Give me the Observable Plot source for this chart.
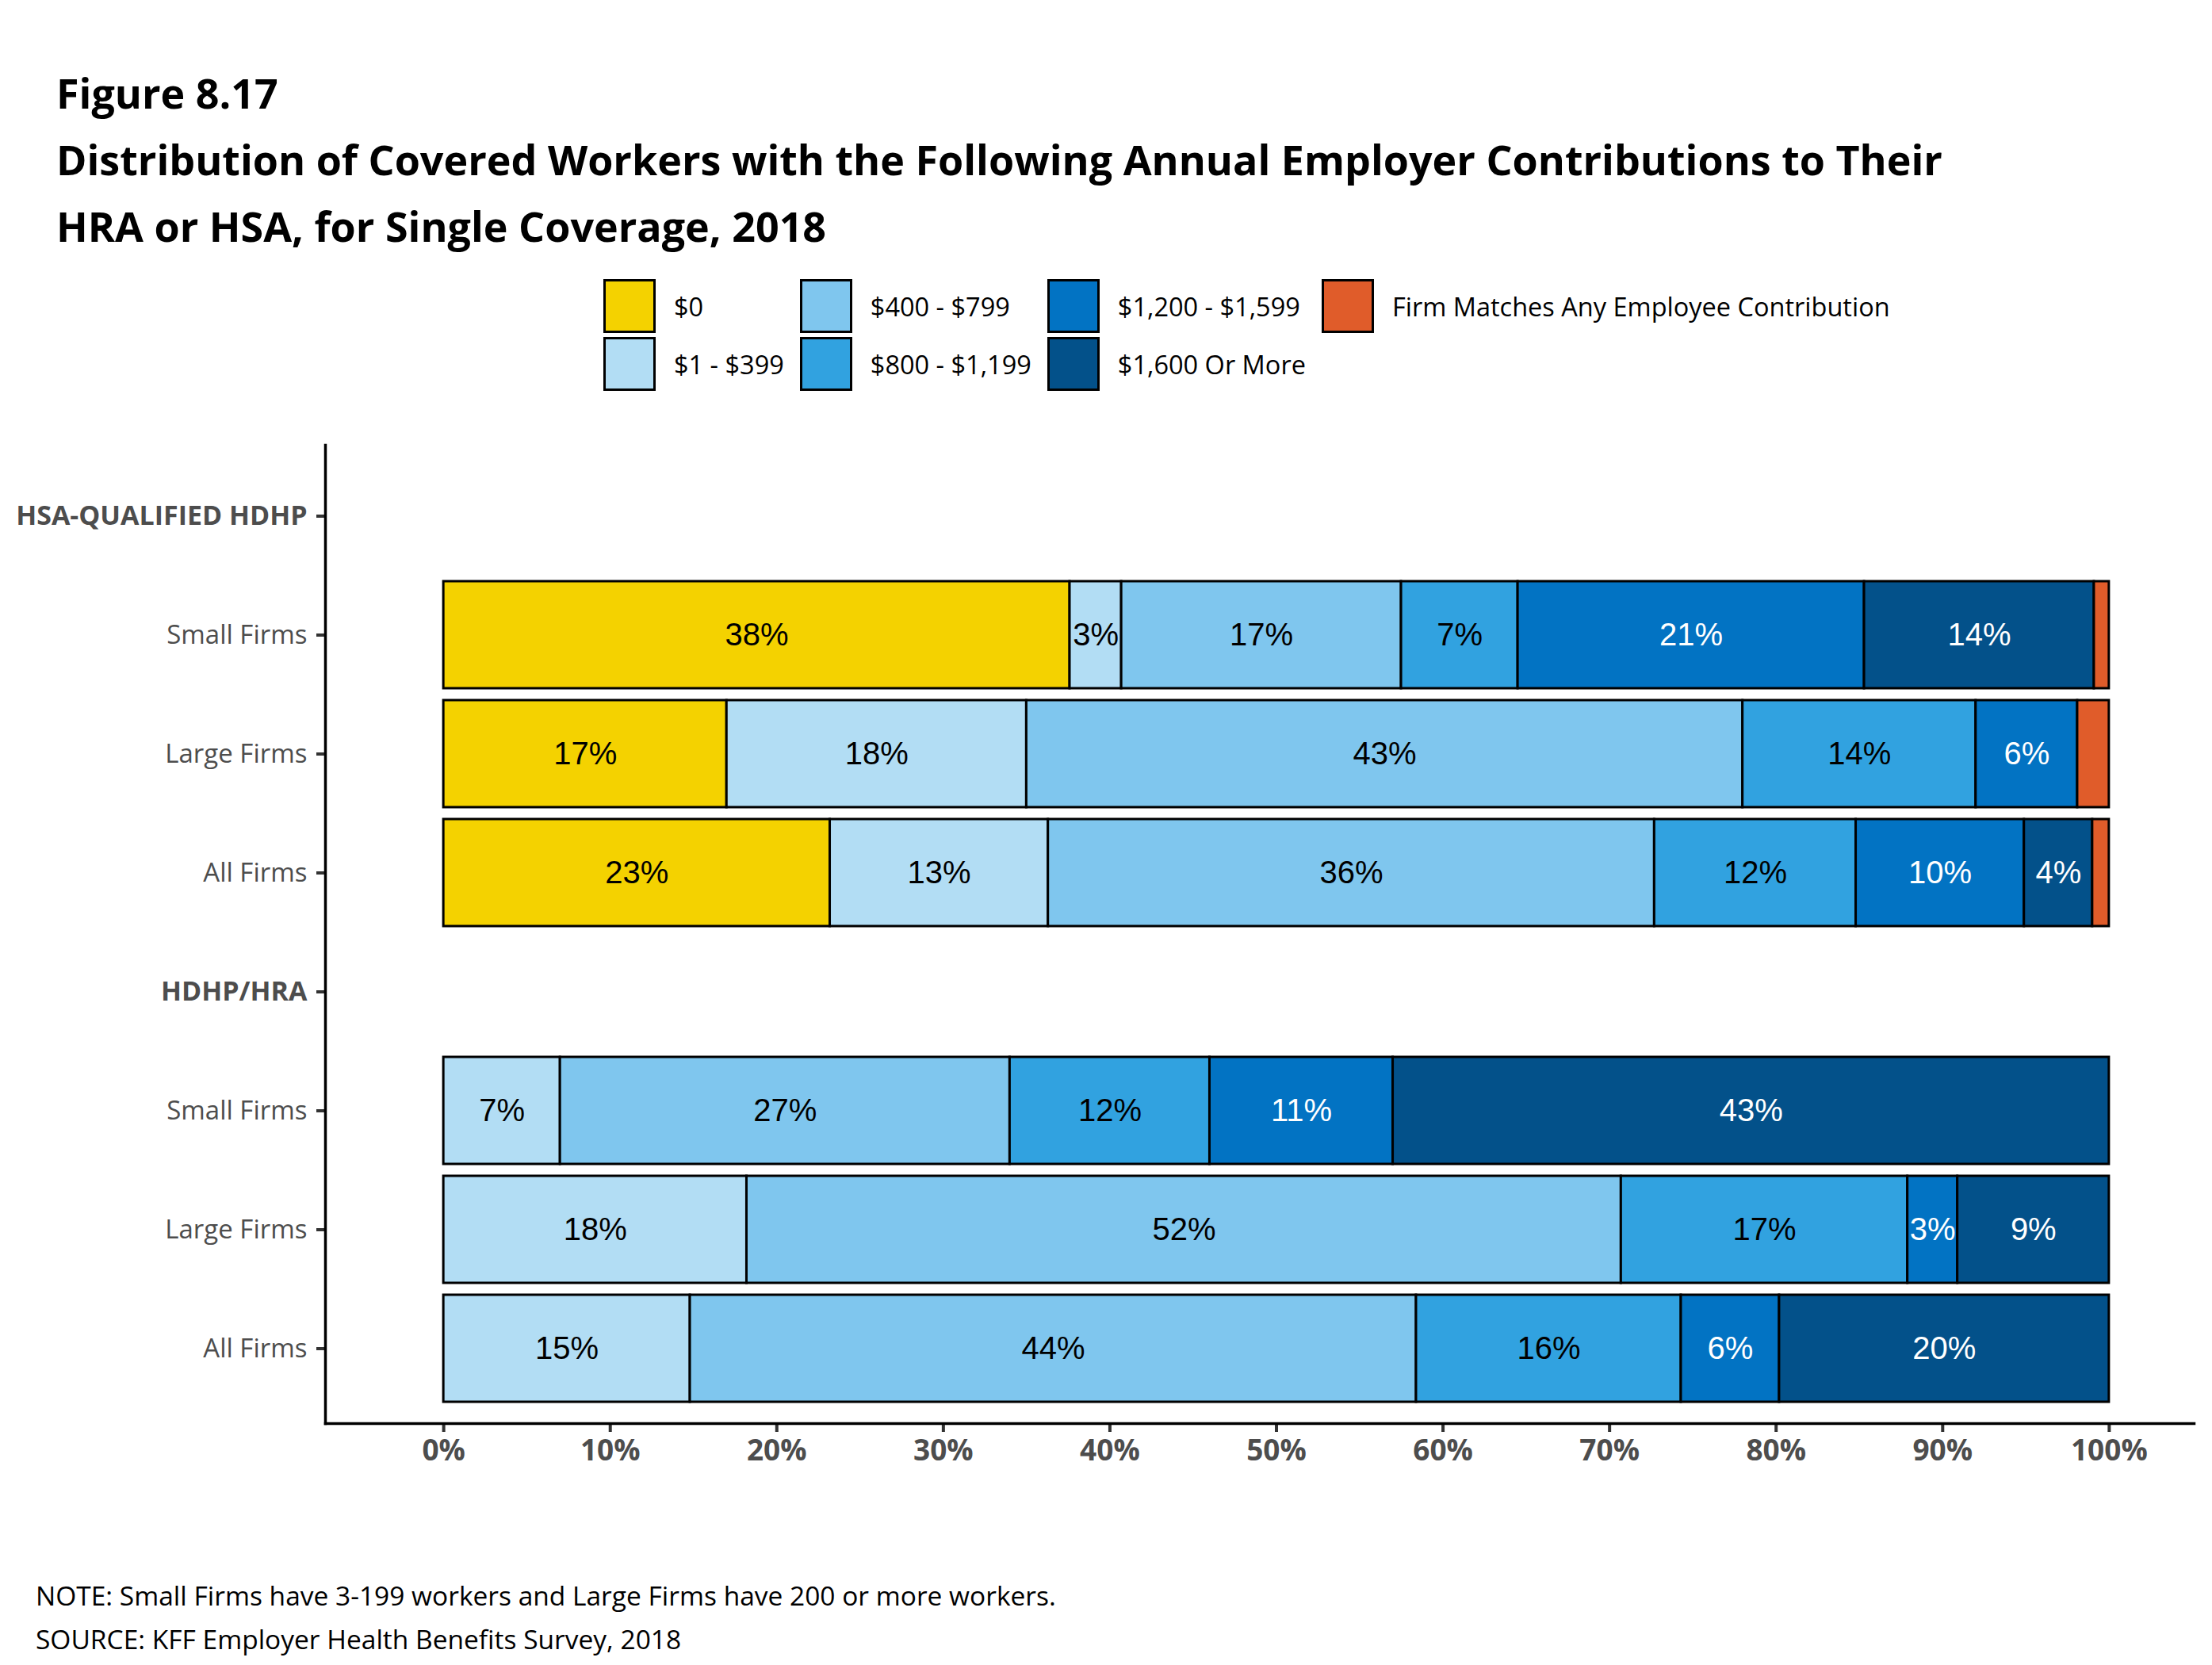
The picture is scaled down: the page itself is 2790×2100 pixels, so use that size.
<!DOCTYPE html>
<html>
<head>
<meta charset="utf-8">
<script src="https://cdn.jsdelivr.net/npm/d3@7"></script>
<script src="https://cdn.jsdelivr.net/npm/@observablehq/plot@0.6"></script>
<style>
  html, body { margin: 0; padding: 0; background: #fff; }
  body { width: 2790px; height: 2100px; position: relative; overflow: hidden; font-family: "Open Sans", sans-serif; }
  #header { position: relative; height: 520px; }
  #title { position: absolute; left: 71px; top: 75px; font-weight: 700; font-size: 52px; line-height: 84px; color: #000; white-space: nowrap; }
  #legend { position: absolute; left: 761px; top: 352px; display: flex; gap: 20px; }
  .lcol { display: flex; flex-direction: column; gap: 5px; }
  .litem { display: flex; align-items: center; height: 68px; }
  .lsw { width: 60px; height: 62px; border: 3px solid #000; margin-right: 23px; }
  .ltxt { font-size: 32.5px; color: #000; white-space: nowrap; }
  #chart { position: absolute; left: 0; top: 520px; }
  #notes { position: absolute; left: 45px; top: 1985px; font-size: 33.5px; line-height: 55px; color: #000; white-space: nowrap; }
</style>
</head>
<body>
<div id="header">
  <div id="title">Figure 8.17<br>Distribution of Covered Workers with the Following Annual Employer Contributions to Their<br>HRA or HSA, for Single Coverage, 2018</div>
  <div id="legend"></div>
</div>
<div id="chart"></div>
<div id="notes">NOTE: Small Firms have 3-199 workers and Large Firms have 200 or more workers.<br>SOURCE: KFF Employer Health Benefits Survey, 2018</div>
<script>
// ---- data ----
const categories = ["$0", "$1 - $399", "$400 - $799", "$800 - $1,199", "$1,200 - $1,599", "$1,600 Or More", "Firm Matches Any Employee Contribution"];
const colors = ["#F4D200", "#B2DDF4", "#7FC6EE", "#31A2E0", "#0273C3", "#03518A", "#E05C2A"];
const darkCategories = ["$1,200 - $1,599", "$1,600 Or More"];

const rowKeys = ["hsaHead", "hsaSmall", "hsaLarge", "hsaAll", "hraHead", "hraSmall", "hraLarge", "hraAll"];
const rowLabels = ["HSA-QUALIFIED HDHP", "Small Firms", "Large Firms", "All Firms", "HDHP/HRA", "Small Firms", "Large Firms", "All Firms"];
const headingKeys = ["hsaHead", "hraHead"];

const hsaSmall = [37.6, 3.1, 16.8, 7.0, 20.8, 13.8, 0.9];
const hsaLarge = [17.0, 18.0, 43.0, 14.0, 6.1, 0, 1.9];
const hsaAll   = [23.2, 13.1, 36.4, 12.1, 10.1, 4.1, 1.0];
const hraSmall = [0, 7.0, 27.0, 12.0, 11.0, 43.0, 0];
const hraLarge = [0, 18.2, 52.5, 17.2, 3.0, 9.1, 0];
const hraAll   = [0, 14.8, 43.6, 15.9, 5.9, 19.8, 0];

const hsaSmallLabels = ["38%", "3%", "17%", "7%", "21%", "14%", ""];
const hsaLargeLabels = ["17%", "18%", "43%", "14%", "6%", "", ""];
const hsaAllLabels   = ["23%", "13%", "36%", "12%", "10%", "4%", ""];
const hraSmallLabels = ["", "7%", "27%", "12%", "11%", "43%", ""];
const hraLargeLabels = ["", "18%", "52%", "17%", "3%", "9%", ""];
const hraAllLabels   = ["", "15%", "44%", "16%", "6%", "20%", ""];

const xTicks = [0, 10, 20, 30, 40, 50, 60, 70, 80, 90, 100];
const xDomain = [-7.1, 105.1];

// ---- build table ----
const series = [
  ["hsaSmall", hsaSmall, hsaSmallLabels],
  ["hsaLarge", hsaLarge, hsaLargeLabels],
  ["hsaAll", hsaAll, hsaAllLabels],
  ["hraSmall", hraSmall, hraSmallLabels],
  ["hraLarge", hraLarge, hraLargeLabels],
  ["hraAll", hraAll, hraAllLabels]
];
const data = [];
for (const [row, vals, labs] of series) {
  vals.forEach((v, j) => {
    if (v > 0) data.push({row, cat: categories[j], value: v, label: labs[j]});
  });
}
const labelOf = Object.fromEntries(rowKeys.map((k, i) => [k, rowLabels[i]]));
const firmKeys = rowKeys.filter(k => !headingKeys.includes(k));

// ---- legend ----
const legend = document.getElementById("legend");
for (let c = 0; c < Math.ceil(categories.length / 2); c++) {
  const col = document.createElement("div");
  col.className = "lcol";
  for (let r = 0; r < 2; r++) {
    const i = c * 2 + r;
    if (i >= categories.length) break;
    const item = document.createElement("div");
    item.className = "litem";
    const sw = document.createElement("div");
    sw.className = "lsw";
    sw.style.background = colors[i];
    const tx = document.createElement("div");
    tx.className = "ltxt";
    tx.textContent = categories[i];
    item.appendChild(sw);
    item.appendChild(tx);
    col.appendChild(item);
  }
  legend.appendChild(col);
}

// ---- chart ----
const labelFont = "'Liberation Sans', Arial, sans-serif";
const tickColor = "#333333";
const chart = Plot.plot({
  width: 2790,
  height: 1380,
  marginTop: 41,
  marginBottom: 105,
  marginLeft: 410,
  marginRight: 23,
  style: {fontFamily: "'Open Sans', sans-serif", background: "white", overflow: "visible"},
  x: {domain: xDomain},
  y: {domain: rowKeys, paddingInner: 0.1, paddingOuter: 0.163, align: 0.44},
  color: {domain: categories, range: colors},
  marks: [
    Plot.barX(data, {x: "value", y: "row", fill: "cat", stroke: "black", strokeWidth: 3}),
    Plot.text(data, Plot.stackX({
      x: "value", y: "row", z: "cat",
      text: d => darkCategories.includes(d.cat) ? "" : d.label,
      fill: "black", fontSize: 40, fontFamily: labelFont
    })),
    Plot.text(data, Plot.stackX({
      x: "value", y: "row", z: "cat",
      text: d => darkCategories.includes(d.cat) ? d.label : "",
      fill: "white", fontSize: 40, fontFamily: labelFont
    })),
    Plot.axisX(xTicks, {
      anchor: "bottom", tickFormat: d => d + "%", tickSize: 11, tickPadding: 9,
      fontSize: 37, fontWeight: "bold", fill: "#4d4d4d", stroke: tickColor, strokeWidth: 4,
      label: null
    }),
    Plot.axisY(headingKeys, {
      anchor: "left", tickFormat: k => labelOf[k], tickSize: 11, tickPadding: 12,
      fontSize: 34, fontWeight: "bold", fill: "#4d4d4d", stroke: tickColor, strokeWidth: 4,
      label: null
    }),
    Plot.axisY(firmKeys, {
      anchor: "left", tickFormat: k => labelOf[k], tickSize: 11, tickPadding: 12,
      fontSize: 33, fill: "#4d4d4d", stroke: tickColor, strokeWidth: 4,
      label: null
    }),
    Plot.frame({anchor: "left", stroke: "black", strokeWidth: 3.5}),
    Plot.frame({anchor: "bottom", stroke: "black", strokeWidth: 3.5})
  ]
});
document.getElementById("chart").appendChild(chart);
</script>
</body>
</html>
